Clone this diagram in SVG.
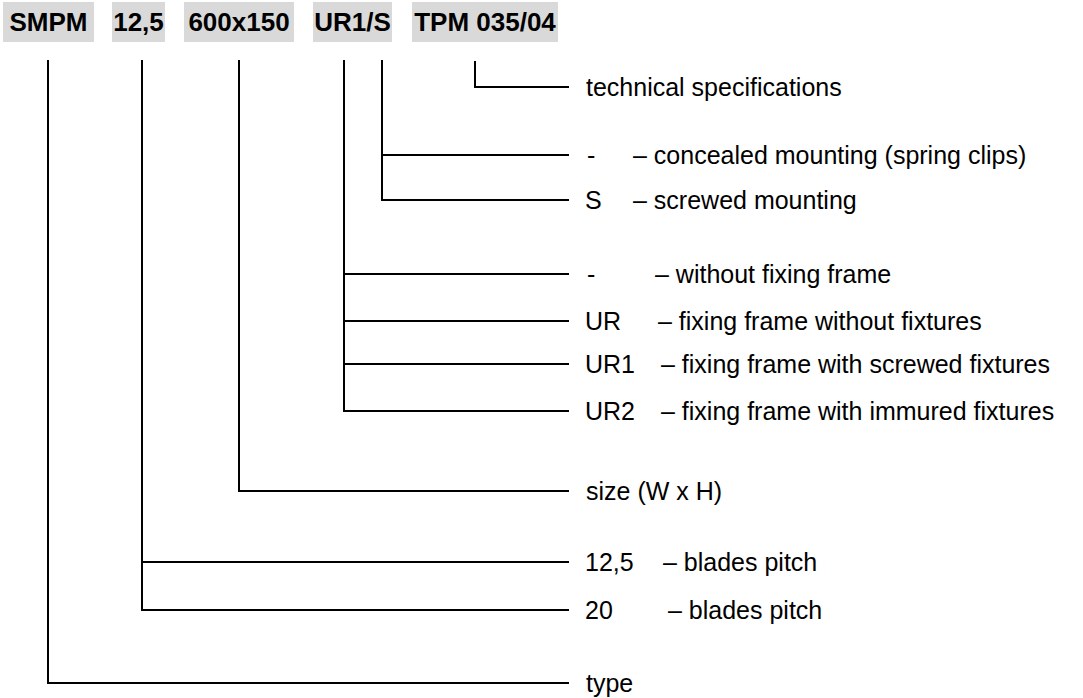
<svg xmlns="http://www.w3.org/2000/svg" width="1083" height="698" viewBox="0 0 1083 698">
<style>
.box{fill:#d9d9d9}
.h{font-family:"Liberation Sans",Arial,sans-serif;font-weight:bold;font-size:26px;fill:#000}
.t{font-family:"Liberation Sans",Arial,sans-serif;font-size:25px;fill:#000}
.ln{fill:none;stroke:#000;stroke-width:2}
</style>
<rect width="1083" height="698" fill="#fff"/>
<g id="codes">
<g id="code-smpm"><rect class="box" x="3" y="2" width="91" height="40"/><text class="h" x="48.5" y="31" text-anchor="middle">SMPM</text></g>
<g id="code-pitch"><rect class="box" x="112" y="2" width="53" height="40"/><text class="h" x="138.5" y="31" text-anchor="middle">12,5</text></g>
<g id="code-size"><rect class="box" x="184" y="2" width="110" height="40"/><text class="h" x="239" y="31" text-anchor="middle">600x150</text></g>
<g id="code-frame"><rect class="box" x="313" y="2" width="79" height="40"/><text class="h" x="352.5" y="31" text-anchor="middle">UR1/S</text></g>
<g id="code-tpm"><rect class="box" x="412" y="2" width="146" height="40"/><text class="h" x="485" y="31" text-anchor="middle">TPM 035/04</text></g>
</g>
<g id="connectors">
<path class="ln" d="M475 61V87H569"/>
<path class="ln" d="M382 60V200H569M382 155H569"/>
<path class="ln" d="M344 60V411H569M344 274H569M344 321H569M344 364H569"/>
<path class="ln" d="M239 60V491H569"/>
<path class="ln" d="M142 60V610H569M142 562H569"/>
<path class="ln" d="M48 60V683H569"/>
</g>
<g id="labels">
<g id="l-tech"><text class="t" x="586" y="96">technical specifications</text></g>
<g id="l-concealed"><text class="t" x="587" y="164">-</text><text class="t" x="633" y="164">– concealed mounting (spring clips)</text></g>
<g id="l-screwed"><text class="t" x="585" y="209">S</text><text class="t" x="633" y="209">– screwed mounting</text></g>
<g id="l-noframe"><text class="t" x="587" y="283">-</text><text class="t" x="655" y="283">– without fixing frame</text></g>
<g id="l-ur"><text class="t" x="585" y="330">UR</text><text class="t" x="658" y="330">– fixing frame without fixtures</text></g>
<g id="l-ur1"><text class="t" x="585" y="373">UR1</text><text class="t" x="661" y="373">– fixing frame with screwed fixtures</text></g>
<g id="l-ur2"><text class="t" x="585" y="420">UR2</text><text class="t" x="661" y="420">– fixing frame with immured fixtures</text></g>
<g id="l-size"><text class="t" x="586" y="500">size (W x H)</text></g>
<g id="l-125"><text class="t" x="585" y="571">12,5</text><text class="t" x="663" y="571">– blades pitch</text></g>
<g id="l-20"><text class="t" x="585" y="619">20</text><text class="t" x="668" y="619">– blades pitch</text></g>
<g id="l-type"><text class="t" x="586" y="692">type</text></g>
</g>
</svg>
